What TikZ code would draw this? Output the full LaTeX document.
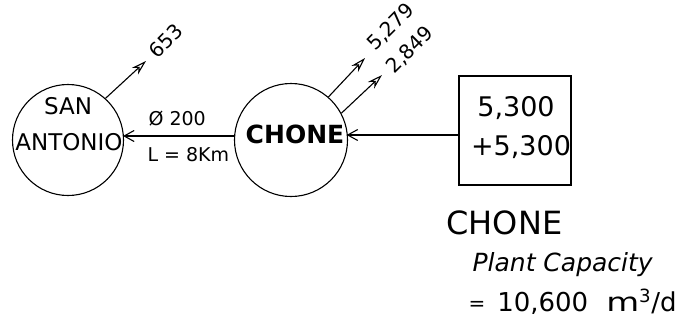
\documentclass[tikz,border=0pt]{standalone}
\usepackage{fontspec}
\setmainfont{DejaVu Sans}
\usetikzlibrary{arrows.meta}
\begin{document}
\begin{tikzpicture}[x=1pt,y=-1pt,
  line width=1.1pt,
  town/.style={draw,circle,minimum size=111pt,inner sep=0pt},
  inarr/.style={-{Straight Barb[length=10pt,width=11pt,line width=1.1pt]}},
  outarr/.style={-{Stealth[length=15pt,width=9pt,open,line width=1.1pt]}},
  lbl/.style={inner sep=0pt,font=\fontsize{19}{21}\selectfont},
  rlbl/.style={inner sep=0pt,rotate=45,font=\fontsize{20}{22}\selectfont}]
\useasboundingbox (0,0) rectangle (699,327);
% nodes
\node[town] (sa) at (68,140) {};
\node[inner sep=0pt,font=\fontsize{23}{25}\selectfont] (satxt1) at (68,106) {SAN};
\node[inner sep=0pt,font=\fontsize{23}{25}\selectfont] (satxt2) at (69,142) {ANTONIO};
\node[town,minimum size=113pt] (ch) at (291,140) {};
\node[inner sep=0pt,font=\bfseries\fontsize{25}{27}\selectfont] (chtxt) at (295,134) {CHONE};
\node[draw,minimum width=112pt,minimum height=109pt,inner sep=0pt] (box) at (515,130.5) {};
\node[inner sep=0pt,font=\fontsize{27}{29}\selectfont] (b1) at (516,108) {5,300};
\node[inner sep=0pt,font=\fontsize{27}{29}\selectfont] (b2) at (521,147) {+5,300};
% connectors
\coordinate (chw) at (235.2,136);
\coordinate (sae) at (123,136);
\draw[inarr] (chw) -- (sae);
\coordinate (boxw) at (459,135);
\coordinate (che) at (346.6,135);
\draw[inarr] (boxw) -- (che);
\node[lbl,anchor=west] (d200) at (148,119) {Ø 200};
\node[lbl,anchor=west] (len) at (147,155) {L = 8Km};
% outflows
\coordinate (o1) at (146,61);
\draw[outarr] (sa.48) -- (o1);
\node[rlbl] (q653) at (166,41) {653};
\coordinate (o2) at (365,58);
\draw[outarr] (ch.49) -- (o2);
\coordinate (o3) at (382,75);
\draw[outarr] (ch.28) -- (o3);
\node[rlbl] (q5279) at (391,27) {5,279};
\node[rlbl] (q2849) at (410,50) {2,849};
% plant label
\node[inner sep=0pt,anchor=west,font=\fontsize{32}{34}\selectfont] (plant) at (446,223) {CHONE};
\node[inner sep=0pt,anchor=west,font=\itshape\fontsize{25}{27}\selectfont] (cap) at (472,265) {Plant Capacity};
\node[inner sep=0pt,anchor=west,font=\fontsize{26}{28}\selectfont] (val) at (468,302) {\raisebox{1.5pt}{\fontsize{20}{22}\selectfont=}\hspace{12pt}10,600\hspace{18pt}\scalebox{1.3}[1]{m}\textsuperscript{3}/d};
\end{tikzpicture}
\end{document}
